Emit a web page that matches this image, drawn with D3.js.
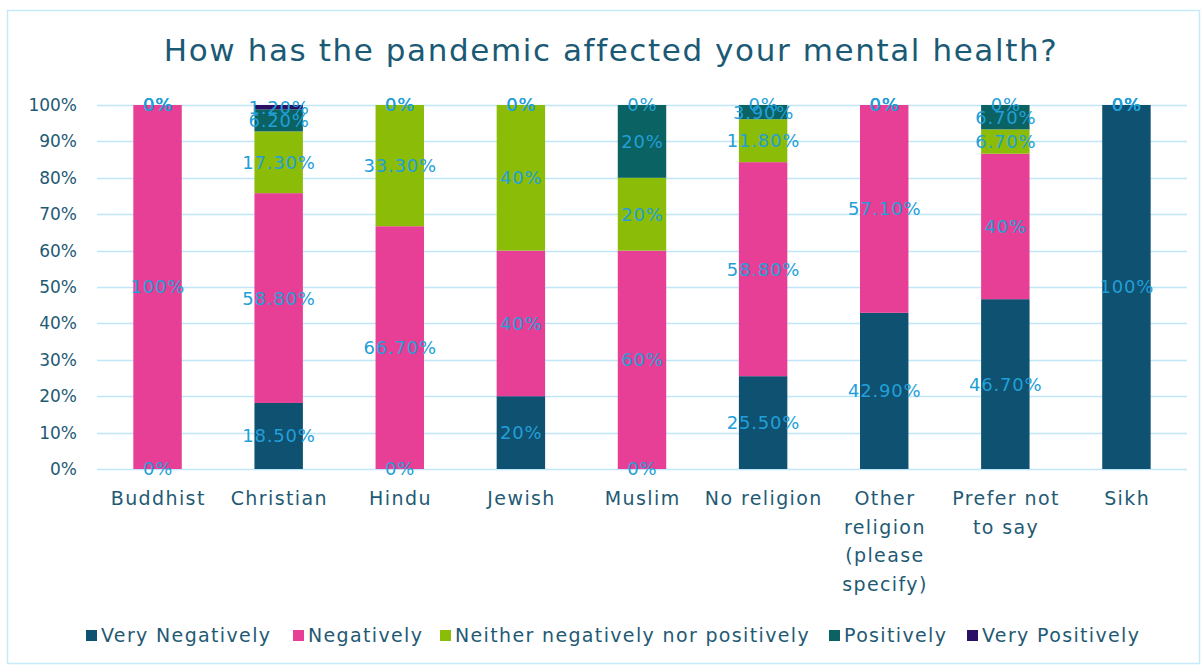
<!DOCTYPE html>
<html>
<head>
<meta charset="utf-8">
<script src="https://cdn.jsdelivr.net/npm/d3@7"></script>
<style>
  html, body { margin: 0; padding: 0; background: #ffffff; }
  svg { display: block; }
  text { font-family: "DejaVu Sans", sans-serif; }
</style>
</head>
<body>
<svg id="chart" width="1202" height="665"></svg>
<script>
// Survey answers by religion (percent of respondents in each group)
const categories = ["Buddhist", "Christian", "Hindu", "Jewish", "Muslim", "No religion",
  "Other religion (please specify)", "Prefer not to say", "Sikh"];
const categoryLines = [["Buddhist"], ["Christian"], ["Hindu"], ["Jewish"], ["Muslim"], ["No religion"],
  ["Other", "religion", "(please", "specify)"], ["Prefer not", "to say"], ["Sikh"]];

const seriesNames = ["Very Negatively", "Negatively", "Neither negatively nor positively", "Positively", "Very Positively"];
const veryNegatively = [0, 18.5, 0, 20, 0, 25.5, 42.9, 46.7, 100];
const negatively     = [100, 58.8, 66.7, 40, 60, 58.8, 57.1, 40, 0];
const neither        = [0, 17.3, 33.3, 40, 20, 11.8, 0, 6.7, 0];
const positively     = [0, 6.2, 0, 0, 20, 3.9, 0, 6.7, 0];
const veryPositively = [0, 1.2, 0, 0, 0, 0, 0, 0, 0];
const seriesColors = ["#0e5170", "#e83f96", "#8bbd08", "#0a6262", "#2a1064"];

const yTicks = [0, 0.1, 0.2, 0.3, 0.4, 0.5, 0.6, 0.7, 0.8, 0.9, 1.0];

const seriesValues = [veryNegatively, negatively, neither, positively, veryPositively];
const table = categories.map((c, i) => {
  const row = { category: c };
  seriesNames.forEach((s, k) => { row[s] = seriesValues[k][i]; });
  return row;
});

const svg = d3.select("#chart");

// outer frame
svg.append("rect")
  .attr("x", 7.5).attr("y", 10.5).attr("width", 1192).attr("height", 653)
  .attr("fill", "#ffffff").attr("stroke", "#c6ebf8").attr("stroke-width", 1.5);

// title
svg.append("text")
  .attr("x", 611).attr("y", 61)
  .attr("text-anchor", "middle")
  .attr("font-size", 31)
  .attr("letter-spacing", 1.6)
  .attr("fill", "#1b5a74")
  .text("How has the pandemic affected your mental health?");

const x = d3.scaleBand().domain(categories).range([97, 1187]).paddingInner(0.6).paddingOuter(0.3);
const y = d3.scaleLinear().domain([0, 1]).range([469, 105]);

// gridlines
svg.append("g").selectAll("line").data(yTicks).join("line")
  .attr("x1", 97).attr("x2", 1187)
  .attr("y1", d => Math.round(y(d)) + 0.5).attr("y2", d => Math.round(y(d)) + 0.5)
  .attr("stroke", "#bfe7f7").attr("stroke-width", 1.5);

// y axis labels
const yAxis = d3.axisLeft(y).tickValues(yTicks).tickFormat(d => Math.round(d * 100) + "%").tickSize(0).tickPadding(0);
const yG = svg.append("g").attr("transform", "translate(77,0)").call(yAxis);
yG.select(".domain").remove();
yG.selectAll("text").attr("font-size", 17).attr("fill", "#1f5a74").attr("font-family", "DejaVu Sans, sans-serif");

// 100% stacked bars
const stack = d3.stack().keys(seriesNames).offset(d3.stackOffsetExpand);
const layers = stack(table);

const barG = svg.append("g");
layers.forEach((layer, k) => {
  barG.append("g").attr("fill", seriesColors[k])
    .selectAll("rect").data(layer).join("rect")
    .attr("x", d => x(d.data.category))
    .attr("width", x.bandwidth())
    .attr("y", d => y(d[1]))
    .attr("height", d => y(d[0]) - y(d[1]));
});

// value labels
const fmt = v => (Number.isInteger(v) ? v : v.toFixed(2)) + "%";
const labelG = svg.append("g");
layers.forEach((layer, k) => {
  labelG.append("g").selectAll("text").data(layer).join("text")
    .attr("x", d => x(d.data.category) + x.bandwidth() / 2 + 0.4)
    .attr("y", d => y((d[0] + d[1]) / 2))
    .attr("dy", "0.36em")
    .attr("text-anchor", "middle")
    .attr("font-size", 18)
    .attr("letter-spacing", 0.8)
    .attr("fill", "#229fd8")
    .text(d => fmt(d.data[seriesNames[k]]));
});

// category labels
const catG = svg.append("g");
categories.forEach((c, i) => {
  const cx = x(c) + x.bandwidth() / 2 + 0.7;
  const t = catG.append("text")
    .attr("x", cx)
    .attr("y", 505)
    .attr("text-anchor", "middle")
    .attr("font-size", 19)
    .attr("letter-spacing", 1.4)
    .attr("fill", "#1f5a74");
  categoryLines[i].forEach((line, j) => {
    t.append("tspan").attr("x", cx).attr("dy", j === 0 ? 0 : 28.5).text(line);
  });
});

// legend
const legendX = [86, 293, 440, 829, 967];
const legend = svg.append("g");
seriesNames.forEach((s, k) => {
  legend.append("rect").attr("x", legendX[k]).attr("y", 630).attr("width", 11).attr("height", 11).attr("fill", seriesColors[k]);
  legend.append("text").attr("x", legendX[k] + 15).attr("y", 642)
    .attr("font-size", 19).attr("letter-spacing", 1.35).attr("fill", "#1f5a74").text(s);
});
</script>
</body>
</html>
